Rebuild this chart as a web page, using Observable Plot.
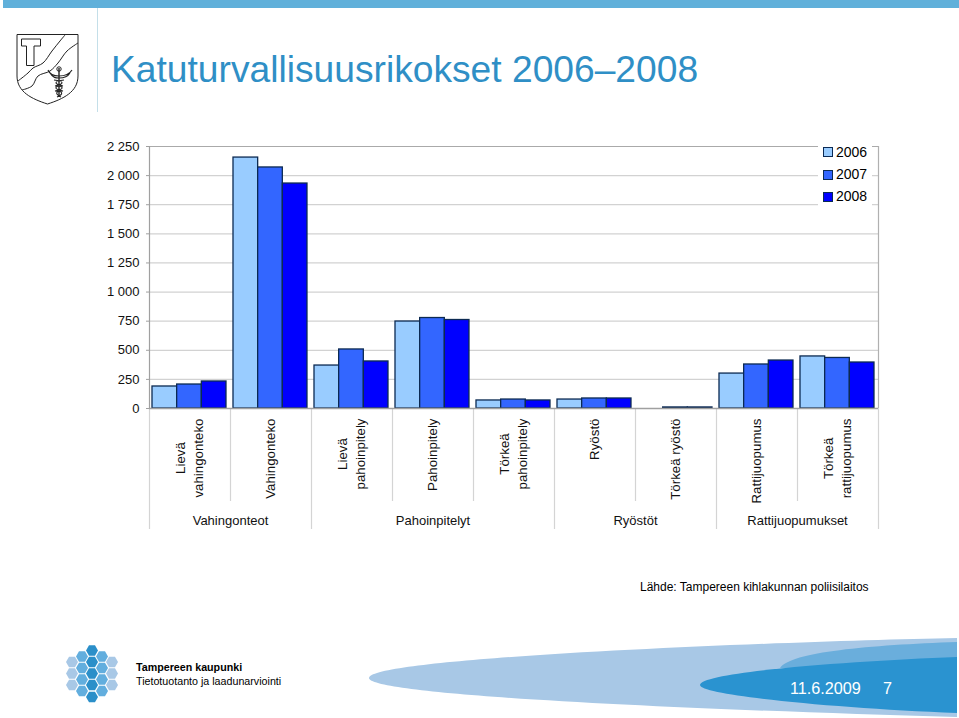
<!DOCTYPE html>
<html>
<head>
<meta charset="utf-8">
<script src="https://cdn.jsdelivr.net/npm/d3@7"></script>
<script src="https://cdn.jsdelivr.net/npm/@observablehq/plot@0.6"></script>
<style>
html,body{margin:0;padding:0;background:#fff;width:959px;height:718px;overflow:hidden;font-family:"Liberation Sans",Arial,sans-serif}
.a{position:absolute;white-space:nowrap}
#chart{position:absolute;left:0;top:0}
#deco{position:absolute;left:0;top:0}
.sw{position:absolute;width:8px;height:8px;border:1px solid #0a2a55;box-sizing:content-box;left:823px}
</style>
</head>
<body>
<svg id="deco" width="959" height="718" viewBox="0 0 959 718"></svg>
<div id="chart"></div>
<div class="a" style="left:111px;top:47px;font-size:37.2px;line-height:44px;color:#2f8fc6">Katuturvallisuusrikokset 2006–2008</div>
<div class="a" style="left:818px;top:144px;width:54px;height:62px;background:#fff"></div>
<div class="sw" style="top:147px;background:#99ccff"></div>
<div class="sw" style="top:170px;background:#3366ff"></div>
<div class="sw" style="top:192px;background:#0000ff"></div>
<div class="a" style="left:836px;top:144px;font-size:14px;line-height:17px">2006</div>
<div class="a" style="left:836px;top:166px;font-size:14px;line-height:17px">2007</div>
<div class="a" style="left:836px;top:188px;font-size:14px;line-height:17px">2008</div>
<div class="a" style="left:640px;top:579px;font-size:12px;line-height:16px">Lähde: Tampereen kihlakunnan poliisilaitos</div>
<div class="a" style="left:136px;top:660px;font-size:10.7px;line-height:14px;font-weight:bold">Tampereen kaupunki</div>
<div class="a" style="left:136px;top:674px;font-size:10.7px;line-height:14px">Tietotuotanto ja laadunarviointi</div>
<div class="a" style="left:790px;top:679px;font-size:16.2px;line-height:18px;color:#fff">11.6.2009</div>
<div class="a" style="left:883px;top:679px;font-size:16.2px;line-height:18px;color:#fff">7</div>
<script>
const years = ["2006", "2007", "2008"];
const categoryLines = [
  ["Lievä", "vahingonteko"], ["Vahingonteko"], ["Lievä", "pahoinpitely"],
  ["Pahoinpitely"], ["Törkeä", "pahoinpitely"], ["Ryöstö"],
  ["Törkeä ryöstö"], ["Rattijuopumus"], ["Törkeä", "rattijuopumus"]
];
const values2006 = [189, 2155, 369, 747, 69, 77, 0, 300, 447];
const values2007 = [206, 2070, 507, 777, 77, 86, 9, 378, 434];
const values2008 = [232, 1932, 404, 760, 69, 86, 9, 412, 395];
const groupNames = ["Vahingonteot", "Pahoinpitelyt", "Ryöstöt", "Rattijuopumukset"];
const groupSpans = [[0, 2], [2, 5], [5, 7], [7, 9]];
const yTicks = [0, 250, 500, 750, 1000, 1250, 1500, 1750, 2000, 2250];
const seriesValues = [values2006, values2007, values2008];
const colors = ["#99ccff", "#3366ff", "#0000ff"];

const FONT = '"Liberation Sans", Arial, sans-serif';
const top0 = 146, base = 408;
const pxToY = px => (base - px) * 2250 / (base - top0); // below-axis labels share the y scale

const barW = 0.3045, barOff = 0.037;
const rows = [];
seriesValues.forEach((vals, s) => vals.forEach((v, c) => {
  if (v > 0) rows.push({x1: c + barOff + s * barW, x2: c + barOff + (s + 1) * barW, y: v, year: years[s]});
}));

const LABEL = 13.3;
const ctx = document.createElement("canvas").getContext("2d");
ctx.font = LABEL + "px " + FONT;
const labels = [];
categoryLines.forEach((lines, c) => {
  const w = Math.max(...lines.map(l => ctx.measureText(l).width));
  lines.forEach((l, i) => labels.push({
    text: l,
    x: c + 0.5 + (i - (lines.length - 1) / 2) * (18 / 81),
    y: pxToY(418 + w / 2)
  }));
});
const groups = groupNames.map((g, i) => ({text: g, x: (groupSpans[i][0] + groupSpans[i][1]) / 2, y: pxToY(520)}));
const shortRules = d3.range(1, 9).filter(i => !groupSpans.some(s => s[0] === i));
const longRules = [0, 2, 5, 7, 9];

const fmt = d => d3.format(",")(d).replace(/,/g, " ");
const SEP = "#d4d4d4";

const plot = Plot.plot({
  width: 959, height: 718,
  marginLeft: 149, marginRight: 81, marginTop: top0, marginBottom: 718 - base,
  style: {background: "transparent", fontFamily: FONT, overflow: "visible"},
  x: {domain: [0, 9], axis: null},
  y: {domain: [0, 2250], axis: null},
  color: {domain: years, range: colors},
  marks: [
    Plot.ruleY(yTicks.slice(1, -1), {stroke: "#d2d2d2", strokeWidth: 1.2}),
    Plot.ruleY([2250], {stroke: "#aaa", strokeWidth: 1.2}),
    Plot.ruleX(shortRules, {y1: 0, y2: pxToY(501), stroke: SEP, strokeWidth: 1.2}),
    Plot.ruleX(longRules, {y1: 0, y2: pxToY(529), stroke: SEP, strokeWidth: 1.2}),
    Plot.ruleX([0], {y1: 0, y2: 2250, stroke: "#a0a0a0", strokeWidth: 1.2}),
    Plot.ruleX([9], {y1: 0, y2: 2250, stroke: "#b0b0b0", strokeWidth: 1.2}),
    Plot.axisY({ticks: yTicks, tickFormat: fmt, label: null, tickSize: 3, tickPadding: 7, fontSize: 13, stroke: "#a0a0a0", fill: "#111", anchor: "left"}),
    Plot.rectY(rows, {x1: "x1", x2: "x2", y: "y", fill: "year", stroke: "#0c2a52", strokeWidth: 1.3}),
    Plot.ruleY([0], {stroke: "#a0a0a0", strokeWidth: 1.4}),
    Plot.text(labels, {x: "x", y: "y", text: "text", rotate: -90, textAnchor: "middle", fontSize: LABEL, fill: "#111"}),
    Plot.text(groups, {x: "x", y: "y", text: "text", textAnchor: "middle", fontSize: 13, fill: "#111"})
  ]
});
document.getElementById("chart").appendChild(plot);

// Slide decoration behind the chart
const deco = d3.select("#deco");
deco.append("rect").attr("x", 3).attr("y", 0).attr("width", 956).attr("height", 8).attr("fill", "#60b0da");
deco.append("rect").attr("x", 97).attr("y", 8).attr("width", 1).attr("height", 104).attr("fill", "#c4dfe9");
// coat of arms
const logo = deco.append("g").attr("fill", "none").attr("stroke", "#222").attr("stroke-width", 1);
const smooth = d3.line().curve(d3.curveCatmullRom);
logo.append("path").attr("d", "M17 34.500H78V76C78 92 63 99 47.500 104C32 99 17 92 17 76Z");
logo.append("path").attr("d", "M21.500 39H40.500V46H34V65.500H26.500V46H21.500Z");
logo.append("path").attr("d", smooth([[18,81],[28,73],[33,68],[43,63],[52,51],[60,41],[65,35]]));
logo.append("path").attr("d", smooth([[22,90],[32,86],[38,76],[50,71],[58,63],[67,51],[78,43]]));
const cad = deco.append("g").attr("fill", "none").attr("stroke", "#222");
cad.append("path").attr("d", "M59 68V97").attr("stroke-width", 1.4);
cad.append("path").attr("d", "M48 70C50 75 55 76 59 76C63 76 69 75 72 70M50 73C53 78 56 78 59 78C62 78 67 78 70 73").attr("stroke-width", 1.1);
cad.append("circle").attr("cx", 59).attr("cy", 69).attr("r", 2.2).attr("stroke-width", 1);
cad.append("path").attr("d", "M54 80C64 81 65 84 55 86C64 86 65 89 55 91C63 91 64 94 57 97M64 80C54 81 53 84 63 86C54 86 53 89 63 91C55 91 55 94 61 97").attr("stroke-width", 1.1);
// footer sweeps
deco.append("path").attr("d", "M957 638C760 642 369 658 369 678C369 694 640 708 957 717Z").attr("fill", "#a8c8e6");
deco.append("path").attr("d", "M957 642C870 645 790 652 780 668L957 668Z").attr("fill", "#6aaedc");
deco.append("path").attr("d", "M957 657C850 661 700 672 700 685C700 695 830 708 957 713Z").attr("fill", "#2a93d0");
// honeycomb
const hex = (cx, cy, f) => {
  const r = 6;
  const p = d3.range(6).map(i => [cx + r * Math.cos(i * Math.PI / 3), cy + r * Math.sin(i * Math.PI / 3)].join(","));
  deco.append("polygon").attr("points", p.join(" ")).attr("fill", f);
};
[[72, [662, 673.500, 685], "#a8c8e6"], [112, [662, 673.500, 685], "#a8c8e6"],
 [82, [656.500, 668, 679.500, 691], "#62aede"], [102, [656.500, 668, 679.500, 691], "#62aede"],
 [92, [650.500, 662, 673.500, 685, 697], "#2b8fc9"]].forEach(([x, ys, f]) => ys.forEach(y => hex(x, y, f)));
</script>
</body>
</html>
